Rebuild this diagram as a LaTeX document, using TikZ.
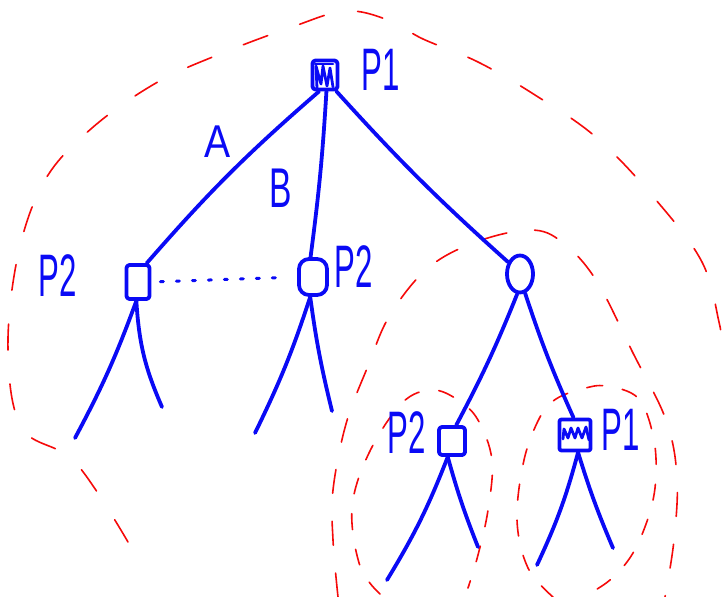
\documentclass[tikz,border=0pt]{standalone}
\usepackage{fontspec}
\setmainfont{Liberation Sans}
\usetikzlibrary{shapes.geometric}
\definecolor{pen}{RGB}{10,10,245}
\definecolor{redpen}{RGB}{245,10,10}
\begin{document}
\begin{tikzpicture}[x=1pt,y=-1pt,
  boxnode/.style={draw=pen, line width=3.8pt, rectangle, inner sep=0pt, line join=round},
  chancenode/.style={draw=pen, line width=3.8pt, ellipse, inner sep=0pt},
  edge/.style={draw=pen, line width=3.8pt, line cap=round},
  scrib/.style={draw=pen, line width=2.8pt, line cap=round, line join=round},
  lbl/.style={text=pen, inner sep=0pt, font=\fontsize{60}{60}\selectfont, xscale=0.52},
  infoline/.style={draw=pen, line width=3pt, line cap=round, dash pattern=on 3pt off 13pt},
  bigset/.style={draw=redpen, line width=1.6pt, line cap=round, dash pattern=on 26pt off 34pt},
  midset/.style={draw=redpen, line width=1.6pt, line cap=round, dash pattern=on 24pt off 28pt},
  smallset/.style={draw=redpen, line width=1.6pt, line cap=round, dash pattern=on 16pt off 20pt}]
\useasboundingbox (0,0) rectangle (723,597);

% red dashed information/subgame outlines
\draw[bigset] plot[smooth, tension=0.6] coordinates {(128,542) (75,462) (22,428) (8,350) (18,255) (45,180) (92,128) (156,83) (220,54) (292,27) (345,11) (388,20) (423,39) (478,62) (535,95) (597,138) (656,200) (702,262) (719,322) (722,345)};
\draw[midset] plot[smooth, tension=0.6] coordinates {(338,597) (333,540) (333,490) (346,424) (368,366) (390,315) (428,268) (476,242) (530,230) (562,242) (596,280) (633,353) (666,420) (677,477) (674,540) (665,597)};
\draw[smallset] plot[smooth, tension=0.6] coordinates {(380,594) (360,566) (352,508) (369,453) (402,403) (432,390) (458,400) (478,420) (492,460) (488,510) (478,555) (468,588)};
\draw[smallset] plot[smooth, tension=0.6] coordinates {(553,597) (528,568) (517,520) (524,460) (540,417) (556,399) (582,389) (606,386) (638,398) (653,435) (656,475) (650,512) (633,553) (610,580) (583,597)};

% tree nodes
\node[boxnode, minimum width=25pt, minimum height=29pt, rounded corners=3pt] (root) at (325,75) {};
\node[boxnode, minimum width=23pt, minimum height=34pt, rounded corners=3pt] (p2a) at (138,282) {};
\node[boxnode, minimum width=28pt, minimum height=36pt, rounded corners=10pt] (p2b) at (313,277) {};
\node[chancenode, minimum width=26pt, minimum height=37pt] (chance) at (520,274) {};
\node[boxnode, minimum width=26pt, minimum height=28pt, rounded corners=3pt] (p2c) at (452,441) {};
\node[boxnode, minimum width=31pt, minimum height=31pt, rounded corners=2pt] (p1c) at (575,435) {};

% scribbles inside the player-1 nodes
\draw[scrib] (317,88) -- (316,66) -- (321,84) -- (323,66) -- (327,86) -- (330,68) -- (333,87);
\draw[scrib] (315,64) -- (333,64);
\draw[scrib] (563,439) -- (564,429) -- (568,438) -- (571,428) -- (575,438) -- (578,428) -- (582,438) -- (586,427) -- (589,440);

% labels
\node[lbl] (l1) at (381,70) {P1};
\node[lbl] (l2) at (58,276) {P2};
\node[lbl] (l3) at (354,267) {P2};
\node[lbl] (l4) at (407,433) {P2};
\node[lbl] (l5) at (621,430) {P1};
\node[text=pen, inner sep=0pt, font=\fontsize{46}{46}\selectfont, xscale=0.85] (la) at (218,142) {A};
\node[text=pen, inner sep=0pt, font=\fontsize{56}{56}\selectfont, xscale=0.6] (lb) at (281,188) {B};

% edges
\draw[edge] (root.250) to[bend right=4] (p2a.65);
\draw[edge] (root.275) to[bend left=2] (p2b.97);
\draw[edge] (root.305) to[bend right=3] (chance.135);
\draw[edge] (chance.262) to[bend left=3] (p2c.75);
\draw[edge] (chance.285) to[bend right=3] (p1c.95);

% information set
\draw[infoline, shorten <=9pt, shorten >=17pt] (p2a.east) -- (p2b.west);

% leaves
\coordinate (la1) at (75,438);
\coordinate (la2) at (162,407);
\coordinate (lb1) at (255,433);
\coordinate (lb2) at (332,411);
\coordinate (lc1) at (387,580);
\coordinate (lc2) at (478,547);
\coordinate (ld1) at (537,565);
\coordinate (ld2) at (613,548);
\draw[edge] (p2a.265) to[bend left=4] (la1);
\draw[edge] (p2a.265) to[bend right=10] (la2);
\draw[edge] (p2b.262) to[bend left=4] (lb1);
\draw[edge] (p2b.262) to[bend right=3] (lb2);
\draw[edge] (p2c.255) to[bend left=5] (lc1);
\draw[edge] (p2c.255) to[bend right=3] (lc2);
\draw[edge] (p1c.280) to[bend left=5] (ld1);
\draw[edge] (p1c.280) to[bend right=3] (ld2);
\end{tikzpicture}
\end{document}
